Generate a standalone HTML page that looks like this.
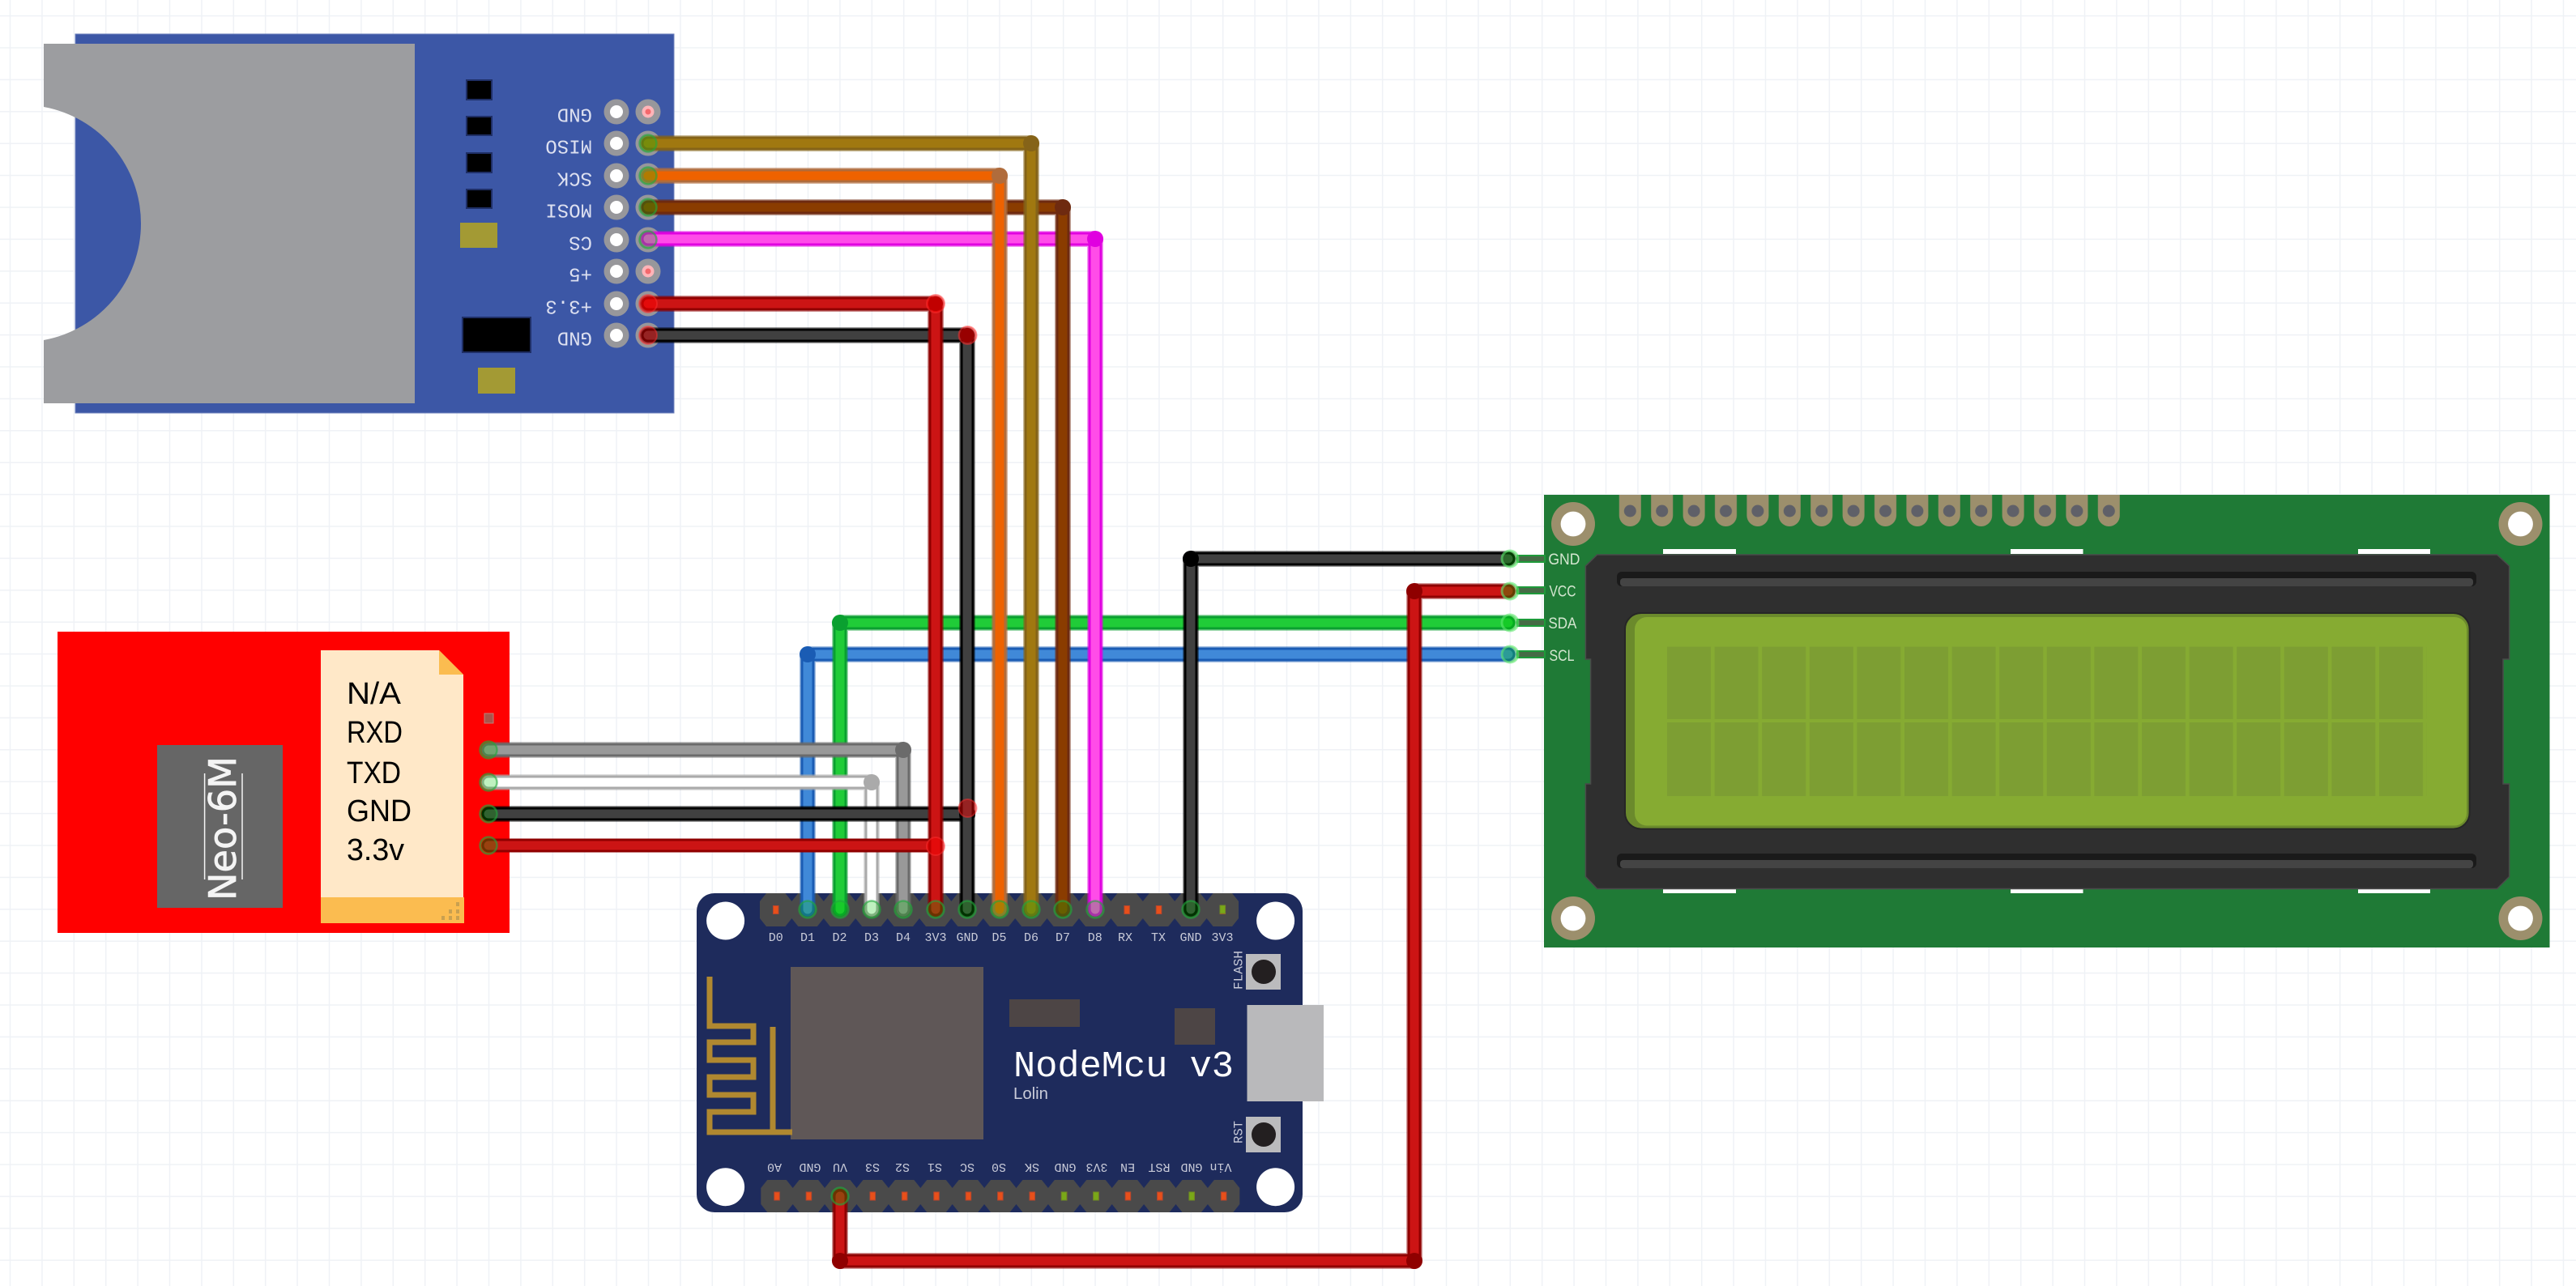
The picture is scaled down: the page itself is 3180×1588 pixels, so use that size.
<!DOCTYPE html>
<html>
<head>
<meta charset="utf-8">
<title>Wiring diagram</title>
<style>
html,body{margin:0;padding:0;background:#fff}
svg{display:block}
.m{font-family:"Liberation Mono",monospace}
.s{font-family:"Liberation Sans",sans-serif}
.n{font-size:15px;fill:#c9cbd9;text-anchor:middle}
.d{font-size:24px;fill:#dde0f0}
.k{font-size:38px;fill:#000}
.l{font-size:19px;fill:#d4e6d0}
.w{fill:none;stroke-linecap:round;stroke-linejoin:round}
</style>
</head>
<body>
<svg xmlns="http://www.w3.org/2000/svg" width="3180" height="1588" viewBox="0 0 3180 1588">
<defs>
<pattern id="grid" patternUnits="userSpaceOnUse" x="-7.2" y="-0.1" width="39.4" height="39.4">
<path d="M19.7 0V39.4M0 19.7H39.4" stroke="#eff2f6" stroke-width="1.5" fill="none"/>
</pattern>
<pattern id="hdrT" patternUnits="userSpaceOnUse" x="938" y="1103" width="39.4" height="41">
<path d="M0 10L8 0H31.4L39.4 10V31L31.4 41H8L0 31Z" fill="#4a4a4a"/>
<rect x="16.5" y="15.5" width="6.5" height="10" fill="#e8501a" stroke="#b8442c" stroke-width="1"/>
</pattern>
<pattern id="hdrB" patternUnits="userSpaceOnUse" x="939.3" y="1457" width="39.4" height="40">
<path d="M0 10L8 0H31.4L39.4 10V30L31.4 40H8L0 30Z" fill="#4a4a4a"/>
<rect x="16.5" y="15" width="6.5" height="10" fill="#e8501a" stroke="#b8442c" stroke-width="1"/>
</pattern>
<pattern id="pads" patternUnits="userSpaceOnUse" x="1992.6" y="611" width="39.4" height="40">
<path d="M6.2 0H33.2V25.5A13.5 13.5 0 0 1 6.2 25.5Z" fill="#9c8f6c"/>
<circle cx="19.7" cy="20" r="7.5" fill="#5f6068"/>
</pattern>
<pattern id="cells" patternUnits="userSpaceOnUse" x="2058" y="0" width="58.6" height="1588">
<rect x="0" y="0" width="54" height="1588" fill="#7d9e33"/>
</pattern>
</defs>

<rect width="3180" height="1588" fill="#fff"/>
<rect width="3180" height="1588" fill="url(#grid)"/>

<!-- SD card module -->
<rect x="93" y="42" width="739" height="468" fill="#3c57a6" stroke="#7083bd" stroke-width="1"/>
<path d="M54 54H512V498H54V420A146.4 146.4 0 0 0 54 132Z" fill="#9c9da0"/>
<g fill="#000" stroke="#1f2f66" stroke-width="2">
<rect x="576" y="99" width="31" height="24"/>
<rect x="576" y="144" width="31" height="23"/>
<rect x="576" y="189" width="31" height="24"/>
<rect x="576" y="234" width="31" height="23"/>
<rect x="571" y="392" width="84" height="43"/>
</g>
<rect x="568" y="275" width="46" height="31" fill="#a39a34"/>
<rect x="590" y="454" width="46" height="32" fill="#a39a34"/>
<g fill="#97979b">
<circle cx="761" cy="138" r="15.5"/><circle cx="761" cy="177" r="15.5"/><circle cx="761" cy="217" r="15.5"/><circle cx="761" cy="256" r="15.5"/><circle cx="761" cy="296" r="15.5"/><circle cx="761" cy="335" r="15.5"/><circle cx="761" cy="375" r="15.5"/><circle cx="761" cy="414" r="15.5"/>
<circle cx="800" cy="138" r="15.5"/><circle cx="800" cy="177" r="15.5"/><circle cx="800" cy="217" r="15.5"/><circle cx="800" cy="256" r="15.5"/><circle cx="800" cy="296" r="15.5"/><circle cx="800" cy="335" r="15.5"/><circle cx="800" cy="375" r="15.5"/><circle cx="800" cy="414" r="15.5"/>
</g>
<g fill="#fff">
<circle cx="761" cy="138" r="8"/><circle cx="761" cy="177" r="8"/><circle cx="761" cy="217" r="8"/><circle cx="761" cy="256" r="8"/><circle cx="761" cy="296" r="8"/><circle cx="761" cy="335" r="8"/><circle cx="761" cy="375" r="8"/><circle cx="761" cy="414" r="8"/>
</g>
<circle cx="800" cy="138" r="7.5" fill="#ffb4b8"/><circle cx="800" cy="138" r="3.5" fill="#f4686c"/>
<circle cx="800" cy="335" r="7.5" fill="#ffb4b8"/><circle cx="800" cy="335" r="3.5" fill="#f4686c"/>
<g class="m d">
<text transform="rotate(180 731 142)" x="731" y="149.5">GND</text>
<text transform="rotate(180 731 181)" x="731" y="188.5">MISO</text>
<text transform="rotate(180 731 221)" x="731" y="228.5">SCK</text>
<text transform="rotate(180 731 260)" x="731" y="267.5">MOSI</text>
<text transform="rotate(180 731 300)" x="731" y="307.5">CS</text>
<text transform="rotate(180 731 339)" x="731" y="346.5">+5</text>
<text transform="rotate(180 731 379)" x="731" y="386.5">+3.3</text>
<text transform="rotate(180 731 418)" x="731" y="425.5">GND</text>
</g>

<!-- Neo-6M -->
<rect x="71" y="780" width="558" height="372" fill="#ff0000"/>
<rect x="194" y="920" width="155" height="201" fill="#666"/>
<text font-family="'DejaVu Sans',sans-serif" font-size="46" fill="#f4f4f4" stroke="#f4f4f4" stroke-width=".8" transform="translate(291 1112) rotate(-90)" textLength="178" lengthAdjust="spacingAndGlyphs">Neo-6M</text>
<path d="M252.6 955V1086M299 955V1086" stroke="#f4f4f4" stroke-width="1.5" fill="none"/>
<path d="M396 803H542L572 833V1108H396Z" fill="#ffe8c8"/>
<path d="M542 803L572 833H542Z" fill="#fbbc50"/>
<rect x="396" y="1108" width="177" height="32" fill="#fbbc50"/>
<g fill="#c9a050">
<rect x="563" y="1114" width="4" height="5"/><rect x="554" y="1123" width="4" height="5"/><rect x="563" y="1123" width="4" height="5"/><rect x="545" y="1131" width="4" height="5"/><rect x="554" y="1131" width="4" height="5"/><rect x="563" y="1131" width="4" height="5"/>
</g>
<g class="s k">
<text x="428" y="869" textLength="67" lengthAdjust="spacingAndGlyphs">N/A</text>
<text x="428" y="917" textLength="69" lengthAdjust="spacingAndGlyphs">RXD</text>
<text x="428" y="967" textLength="67" lengthAdjust="spacingAndGlyphs">TXD</text>
<text x="428" y="1014" textLength="80" lengthAdjust="spacingAndGlyphs">GND</text>
<text x="428" y="1062" textLength="71" lengthAdjust="spacingAndGlyphs">3.3v</text>
</g>
<rect x="598" y="881" width="11" height="12" fill="#a8564c" stroke="#c08078" stroke-width="1"/>

<!-- NodeMCU -->
<rect x="860" y="1103" width="748" height="394" rx="22" fill="#1e2b5c"/>
<rect x="1539.5" y="1241" width="94.5" height="119" fill="#b9b9bb"/>
<circle cx="895.6" cy="1137" r="23.5" fill="#fff"/><circle cx="1574.6" cy="1137" r="23.5" fill="#fff"/>
<circle cx="895.6" cy="1465.7" r="23.5" fill="#fff"/><circle cx="1574.6" cy="1465.7" r="23.5" fill="#fff"/>
<rect x="938" y="1103" width="591" height="41" fill="url(#hdrT)"/>
<rect x="939.3" y="1457" width="591" height="40" fill="url(#hdrB)"/>
<g fill="#7aa818" stroke="#6d8c22" stroke-width="1">
<rect x="1506" y="1118" width="6.5" height="10"/>
<rect x="1310.3" y="1472" width="6.5" height="10"/>
<rect x="1349.7" y="1472" width="6.5" height="10"/>
<rect x="1467.9" y="1472" width="6.5" height="10"/>
</g>
<rect x="976" y="1194" width="238" height="213" fill="#5f5757"/>
<rect x="1246" y="1234" width="87" height="34" fill="#4d4545"/>
<rect x="1450" y="1245" width="50" height="45" fill="#4d4545"/>
<rect x="1538" y="1178" width="43" height="44" fill="#bbbbbd"/>
<ellipse cx="1560" cy="1200" rx="15" ry="15" fill="#231f20"/>
<rect x="1538" y="1379" width="43" height="44" fill="#bbbbbd"/>
<ellipse cx="1560" cy="1401" rx="15" ry="15" fill="#231f20"/>
<path d="M876 1206V1267H930V1287H876V1309H930V1330H876V1352H930V1373H876V1398H978M954 1268V1398" fill="none" stroke="#b08830" stroke-width="7"/>
<g class="m n">
<text x="957.7" y="1162">D0</text><text x="997" y="1162">D1</text><text x="1036.5" y="1162">D2</text><text x="1076" y="1162">D3</text><text x="1115" y="1162">D4</text><text x="1155" y="1162">3V3</text><text x="1194" y="1162">GND</text><text x="1233.5" y="1162">D5</text><text x="1273" y="1162">D6</text><text x="1312" y="1162">D7</text><text x="1351.7" y="1162">D8</text><text x="1389" y="1162">RX</text><text x="1430" y="1162">TX</text><text x="1470" y="1162">GND</text><text x="1509" y="1162">3V3</text>
<text transform="rotate(180 956 1442)" x="956" y="1447">A0</text>
<text transform="rotate(180 1000 1442)" x="1000" y="1447">GND</text>
<text transform="rotate(180 1037 1442)" x="1037" y="1447">VU</text>
<text transform="rotate(180 1077 1442)" x="1077" y="1447">S3</text>
<text transform="rotate(180 1114 1442)" x="1114" y="1447">S2</text>
<text transform="rotate(180 1154 1442)" x="1154" y="1447">S1</text>
<text transform="rotate(180 1194 1442)" x="1194" y="1447">SC</text>
<text transform="rotate(180 1233 1442)" x="1233" y="1447">S0</text>
<text transform="rotate(180 1274 1442)" x="1274" y="1447">SK</text>
<text transform="rotate(180 1315 1442)" x="1315" y="1447">GND</text>
<text transform="rotate(180 1354 1442)" x="1354" y="1447">3V3</text>
<text transform="rotate(180 1392 1442)" x="1392" y="1447">EN</text>
<text transform="rotate(180 1431 1442)" x="1431" y="1447">RST</text>
<text transform="rotate(180 1471 1442)" x="1471" y="1447">GND</text>
<text transform="rotate(180 1507 1442)" x="1507" y="1447">Vin</text>
</g>
<text class="m" font-size="16" fill="#c9cbd9" transform="translate(1533.5 1222) rotate(-90)" textLength="48" lengthAdjust="spacingAndGlyphs">FLASH</text>
<text class="m" font-size="16" fill="#c9cbd9" transform="translate(1533.5 1412) rotate(-90)" textLength="28" lengthAdjust="spacingAndGlyphs">RST</text>
<text class="m" font-size="45" fill="#fff" x="1251" y="1329" textLength="272" lengthAdjust="spacingAndGlyphs">NodeMcu v3</text>
<text class="s" font-size="20" fill="#c9cbd9" x="1251" y="1357" textLength="43" lengthAdjust="spacingAndGlyphs">Lolin</text>

<!-- LCD -->
<rect x="1906" y="611" width="1241.5" height="559" fill="#1f7a36"/>
<rect x="1992.6" y="611" width="630.4" height="40" fill="url(#pads)"/>
<g fill="#fff"><rect x="2053" y="678" width="90" height="6"/><rect x="2482" y="678" width="89.5" height="6"/><rect x="2911" y="678" width="89" height="6"/><rect x="2053" y="1098" width="90" height="5"/><rect x="2482" y="1098" width="89.5" height="5"/><rect x="2911" y="1098" width="89" height="5"/></g>
<g fill="#9c8f6c"><circle cx="1942" cy="647" r="27"/><circle cx="3111.5" cy="647" r="27"/><circle cx="1942" cy="1134" r="27"/><circle cx="3111.5" cy="1134" r="27"/></g>
<g fill="#fff"><circle cx="1942" cy="647" r="15.4"/><circle cx="3111.5" cy="647" r="15.4"/><circle cx="1942" cy="1134" r="15.4"/><circle cx="3111.5" cy="1134" r="15.4"/></g>
<path d="M1971.7 685H3082.5L3097.6 699V814H3090V968H3097.6V1082.5L3082.5 1097.5H1971.7L1957.4 1082.5V968H1963.6V814H1957.4V699Z" fill="#2f2f2f" stroke="#4a4a4a" stroke-width="1.5"/>
<rect x="1996" y="706" width="1061" height="18" rx="6" fill="#1a1a1a"/>
<rect x="2000" y="714" width="1053" height="10" rx="4" fill="#444"/>
<rect x="1996" y="1054" width="1061" height="18" rx="6" fill="#1a1a1a"/>
<rect x="2000" y="1062" width="1053" height="10" rx="4" fill="#444"/>
<rect x="2006" y="757" width="1042.6" height="266.6" rx="20" fill="#6b8a2c" stroke="#262626" stroke-width="2"/>
<rect x="2018" y="762" width="1027" height="257.5" rx="15" fill="#86ab32"/>
<rect x="2058" y="798.6" width="937.7" height="89.4" fill="url(#cells)"/>
<rect x="2058" y="892" width="937.7" height="91" fill="url(#cells)"/>
<g class="s l">
<text x="1911.4" y="697" textLength="39" lengthAdjust="spacingAndGlyphs">GND</text>
<text x="1912.5" y="736.6" textLength="33" lengthAdjust="spacingAndGlyphs">VCC</text>
<text x="1911.4" y="776" textLength="35" lengthAdjust="spacingAndGlyphs">SDA</text>
<text x="1912.5" y="816" textLength="31" lengthAdjust="spacingAndGlyphs">SCL</text>
</g>
<g fill="#466b46" stroke="#1e9a3a" stroke-width="2">
<rect x="1873" y="686" width="34" height="8"/><rect x="1873" y="725" width="34" height="8"/><rect x="1873" y="765" width="34" height="8"/><rect x="1873" y="804" width="34" height="8"/>
</g>

<!-- Wires: halo / outline / core -->
<g class="w">
<!-- blue -->
<path d="M997 1123V808H1862" stroke="#1a5cb4" stroke-width="20" opacity=".4"/><path d="M997 1123V808H1862" stroke="#1a5cb4" stroke-width="17"/><path d="M997 1123V808H1862" stroke="#4089d8" stroke-width="11"/>
<circle cx="997" cy="808" r="10" fill="#1a5cb4"/>
<!-- green -->
<path d="M1037 1123V769H1862" stroke="#0aa030" stroke-width="20" opacity=".4"/><path d="M1037 1123V769H1862" stroke="#0aa030" stroke-width="17"/><path d="M1037 1123V769H1862" stroke="#20cc38" stroke-width="11"/>
<circle cx="1037" cy="769" r="10" fill="#0aa030"/>
<!-- magenta -->
<path d="M800 295H1352V1123" stroke="#e000e0" stroke-width="20" opacity=".4"/><path d="M800 295H1352V1123" stroke="#e000e0" stroke-width="17"/><path d="M800 295H1352V1123" stroke="#ff4ce8" stroke-width="11"/>
<circle cx="1352" cy="295" r="10" fill="#e000e0"/>
<!-- brown -->
<path d="M800 256H1312V1123" stroke="#6e2a10" stroke-width="20" opacity=".45"/><path d="M800 256H1312V1123" stroke="#6e2a10" stroke-width="17"/><path d="M800 256H1312V1123" stroke="#8a3c00" stroke-width="11"/>
<circle cx="1312" cy="256" r="10" fill="#6e2a10"/>
<!-- orange -->
<path d="M800 217H1234V1123" stroke="#b06c3c" stroke-width="20" opacity=".5"/><path d="M800 217H1234V1123" stroke="#b06c3c" stroke-width="17"/><path d="M800 217H1234V1123" stroke="#ee6200" stroke-width="11"/>
<circle cx="1234" cy="217" r="10" fill="#b06c3c"/>
<!-- olive -->
<path d="M800 177H1273V1123" stroke="#856318" stroke-width="20" opacity=".45"/><path d="M800 177H1273V1123" stroke="#856318" stroke-width="17"/><path d="M800 177H1273V1123" stroke="#a07810" stroke-width="11"/>
<circle cx="1273" cy="177" r="10" fill="#856318"/>
<!-- grey -->
<path d="M603 926H1115V1123" stroke="#6b6b6b" stroke-width="20" opacity=".4"/><path d="M603 926H1115V1123" stroke="#6b6b6b" stroke-width="17"/><path d="M603 926H1115V1123" stroke="#999" stroke-width="11"/>
<circle cx="1115" cy="926" r="10" fill="#6b6b6b"/>
<!-- white -->
<path d="M603 966H1076V1123" stroke="#aaa" stroke-width="20" opacity=".4"/><path d="M603 966H1076V1123" stroke="#aaa" stroke-width="17"/><path d="M603 966H1076V1123" stroke="#fff" stroke-width="11"/>
<circle cx="1076" cy="966" r="10" fill="#aaa"/>
<!-- neo black -->
<path d="M603 1005H1194" stroke="#000" stroke-width="20" opacity=".4"/><path d="M603 1005H1194" stroke="#000" stroke-width="17"/><path d="M603 1005H1194" stroke="#404040" stroke-width="11"/>
<circle cx="1194" cy="1005" r="10" fill="#000"/>
<!-- neo red -->
<path d="M603 1044H1155" stroke="#8f0000" stroke-width="17"/><path d="M603 1044H1155" stroke="#cc1414" stroke-width="11"/>
<!-- sd black -->
<path d="M800 414H1194V1123" stroke="#000" stroke-width="20" opacity=".4"/><path d="M800 414H1194V1123" stroke="#000" stroke-width="17"/><path d="M800 414H1194V1123" stroke="#404040" stroke-width="11"/>
<circle cx="1194" cy="414" r="9" fill="#400"/>
<!-- sd red -->
<path d="M800 375H1155V1123" stroke="#8f0000" stroke-width="20" opacity=".45"/><path d="M800 375H1155V1123" stroke="#8f0000" stroke-width="17"/><path d="M800 375H1155V1123" stroke="#cc1414" stroke-width="11"/>
<circle cx="1155" cy="375" r="9" fill="#8f0000"/>
<!-- lcd black -->
<path d="M1470 1123V690H1862" stroke="#000" stroke-width="20" opacity=".4"/><path d="M1470 1123V690H1862" stroke="#000" stroke-width="17"/><path d="M1470 1123V690H1862" stroke="#404040" stroke-width="11"/>
<circle cx="1470" cy="690" r="10" fill="#000"/>
<!-- bottom red -->
<path d="M1037 1477V1557H1746V730H1862" stroke="#8f0000" stroke-width="20" opacity=".4"/><path d="M1037 1477V1557H1746V730H1862" stroke="#8f0000" stroke-width="17"/><path d="M1037 1477V1557H1746V730H1862" stroke="#cc1414" stroke-width="11"/>
<circle cx="1037" cy="1557" r="10" fill="#8f0000"/><circle cx="1746" cy="1557" r="10" fill="#8f0000"/><circle cx="1746" cy="730" r="10" fill="#8f0000"/>
</g>

<!-- Red junction markers -->
<g fill="#f00" fill-opacity=".45" stroke="#f33" stroke-opacity=".45" stroke-width="2">
<circle cx="1155" cy="375" r="11"/><circle cx="1194.5" cy="414" r="11"/><circle cx="1155" cy="1045" r="11"/><circle cx="1194.5" cy="998" r="11"/><circle cx="800" cy="375" r="11"/><circle cx="800" cy="414" r="11"/>
</g>

<!-- Green connection markers -->
<g fill="#00c800" fill-opacity=".25" stroke="#22a83c" stroke-opacity=".6" stroke-width="2.5">
<circle cx="800" cy="177" r="10.5"/><circle cx="800" cy="217" r="10.5"/><circle cx="800" cy="256" r="10.5"/><circle cx="800" cy="296" r="10.5"/>
<circle cx="603" cy="926" r="10.5"/><circle cx="603" cy="966" r="10.5"/><circle cx="603" cy="1005" r="10.5"/><circle cx="603" cy="1044" r="10.5"/>
<circle cx="997" cy="1123" r="10.5"/><circle cx="1037" cy="1123" r="10.5"/><circle cx="1076" cy="1123" r="10.5"/><circle cx="1115" cy="1123" r="10.5"/><circle cx="1155" cy="1123" r="10.5"/><circle cx="1194" cy="1123" r="10.5"/><circle cx="1234" cy="1123" r="10.5"/><circle cx="1273" cy="1123" r="10.5"/><circle cx="1312" cy="1123" r="10.5"/><circle cx="1352" cy="1123" r="10.5"/><circle cx="1470" cy="1123" r="10.5"/>
<circle cx="1037" cy="1477" r="10.5"/>
</g>
<g fill="#00c800" fill-opacity=".3" stroke="#5fe86f" stroke-opacity=".6" stroke-width="3">
<circle cx="1864" cy="690" r="10"/><circle cx="1864" cy="730" r="10"/><circle cx="1864" cy="769" r="10"/><circle cx="1864" cy="808" r="10"/>
</g>
</svg>
</body>
</html>
